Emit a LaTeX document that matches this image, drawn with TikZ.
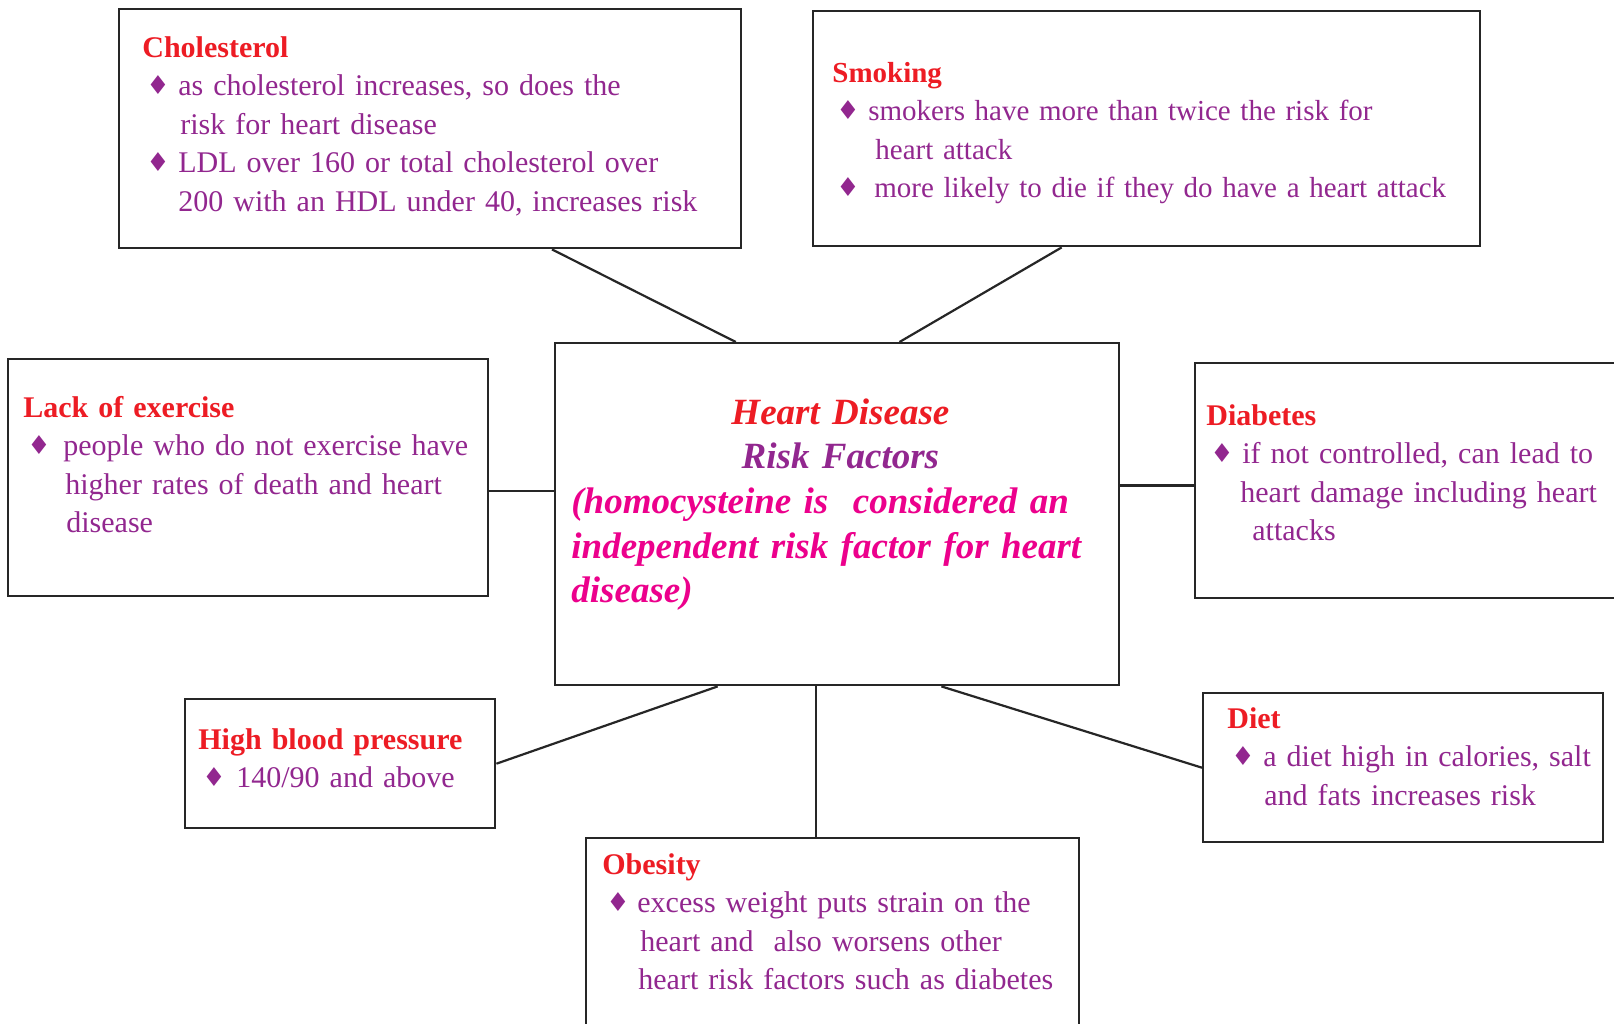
\documentclass[tikz,border=0pt]{standalone}
\usepackage{fontspec}
\setmainfont{Liberation Serif}
\newfontfamily\diasym{DejaVu Sans}
\usetikzlibrary{calc}
\definecolor{hdred}{HTML}{ED1C24}
\definecolor{hdpurple}{HTML}{92278F}
\definecolor{hdpink}{HTML}{EC008C}
\newcommand{\mk}[1][18pt]{\makebox[#1][l]{\hspace{2pt}\raisebox{0.1ex}{\diasym\fontsize{13}{13}\selectfont ♦}}}
\newcommand{\hd}[1]{\textcolor{hdred}{\bfseries #1}}
\tikzset{
    riskbox/.style={draw=black!85, line width=1.2pt, anchor=north west, inner sep=0pt},
    risktext/.style={anchor=base west, inner sep=0pt, text width=400pt,
        text=hdpurple, font=\fontsize{15}{19.25}\selectfont},
    link/.style={draw=black!85, line width=1.1pt}
}

\begin{document}
\begin{tikzpicture}[x=0.5pt, y=-0.5pt]
    \useasboundingbox (0,0) rectangle (1614,1024);
    \clip (0,0) rectangle (1614,1024);
    \fill[white] (0,0) rectangle (1614,1024);

    % boxes
    \node[riskbox, minimum width=311pt, minimum height=119.5pt] (chol) at (118,8) {};
    \node[riskbox, minimum width=333.5pt, minimum height=117.5pt] (smok) at (812,10) {};
    \node[riskbox, minimum width=282pt, minimum height=171pt] (center) at (554,342) {};
    \node[riskbox, minimum width=240pt, minimum height=118.5pt] (lack) at (7,358) {};
    \node[riskbox, minimum width=210pt, minimum height=117.5pt] (dia) at (1194,362) {};
    \node[riskbox, minimum width=155pt, minimum height=64.5pt] (hbp) at (184,698) {};
    \node[riskbox, minimum width=200pt, minimum height=74.5pt] (diet) at (1202,692) {};
    \node[riskbox, minimum width=246.5pt, minimum height=110pt] (ob) at (585,837) {};

    % texts
    \node[risktext] (cholT) at (142,57) {\hd{Cholesterol}\\
        \mk as cholesterol increases, so does the\\
        \hspace*{19pt}risk for heart disease\\
        \mk LDL over 160 or total cholesterol over\\
        \hspace*{18pt}200 with an HDL under 40, increases risk};
    \node[risktext, font=\fontsize{14.5}{19.25}\selectfont] (smokT) at (832,82) {\hd{Smoking}\\
        \mk smokers have more than twice the risk for\\
        \hspace*{21.5pt}heart attack\\
        \mk[21pt]more likely to die if they do have a heart attack};
    \node[risktext] (lackT) at (23,417) {\hd{Lack of exercise}\\
        \mk[20pt]people who do not exercise have\\
        \hspace*{21pt}higher rates of death and heart\\
        \hspace*{21.5pt}disease};
    \node[risktext] (diaT) at (1206,425) {\hd{Diabetes}\\
        \mk if not controlled, can lead to\\
        \hspace*{17pt}heart damage including heart\\
        \hspace*{23pt}attacks};
    \node[risktext] (hbpT) at (198,749) {\hd{High blood pressure}\\
        \mk[19pt]140/90 and above};
    \node[risktext] (dietT) at (1227,728) {\hd{Diet}\\
        \mk a diet high in calories, salt\\
        \hspace*{18.5pt}and fats increases risk};
    \node[risktext] (obT) at (602,874) {\hd{Obesity}\\
        \mk[17.5pt]excess weight puts strain on the\\
        \hspace*{19pt}heart and~ also worsens other\\
        \hspace*{18pt}heart risk factors such as diabetes};
    \node[anchor=base west, inner sep=0pt, text width=255pt,
        font=\fontsize{18.5}{22.35}\selectfont\bfseries\itshape] (centerT) at (571,424)
        {{\centering\hspace*{14pt}\textcolor{hdred}{Heart Disease}\\
        \hspace*{14pt}\textcolor{hdpurple}{Risk Factors}\par}
        \textcolor{hdpink}{(homocysteine is~ considered an\linebreak
        independent risk factor for heart\linebreak disease)}};

    % connectors
    \coordinate (l1) at ($(lack.north east)!0.557!(lack.south east)$);
    \coordinate (d1) at ($(dia.north west)!0.52!(dia.south west)$);
    \coordinate (o1) at ($(center.south west)!0.463!(center.south east)$);
    \draw[link] ($(chol.south west)!0.695!(chol.south east)$) -- ($(center.north west)!0.321!(center.north east)$);
    \draw[link] ($(smok.south west)!0.373!(smok.south east)$) -- ($(center.north west)!0.61!(center.north east)$);
    \draw[link] (l1) -- (l1 -| center.west);
    \draw[link] (d1) -- (d1 -| center.east);
    \draw[link] ($(center.south west)!0.289!(center.south east)$) -- (hbp.east);
    \draw[link] (o1) -- (o1 |- ob.north);
    \draw[link] ($(center.south west)!0.684!(center.south east)$) -- (diet.west);
\end{tikzpicture}
\end{document}
